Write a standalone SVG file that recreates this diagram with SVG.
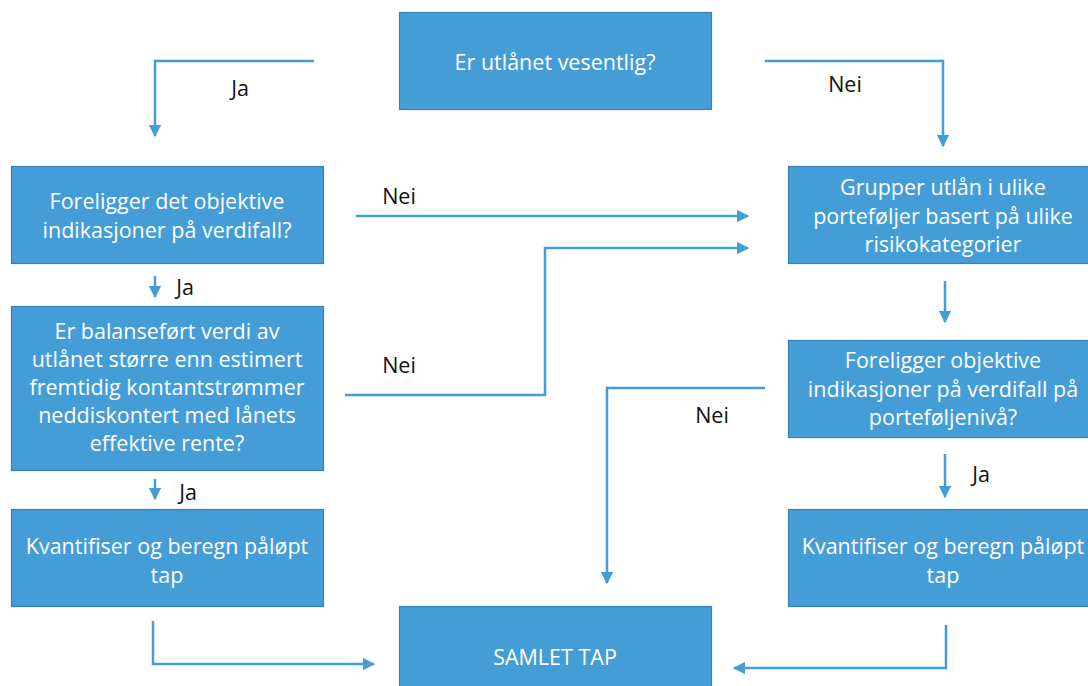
<svg xmlns="http://www.w3.org/2000/svg" width="1088" height="686" viewBox="0 0 1088 686">
<style>
.box{fill:#449dd7;stroke:#3a80b8;stroke-width:1.2}
.bt{font-family:"Open Sans","Liberation Sans",sans-serif;font-size:21.5px;fill:#ffffff;text-anchor:middle;dominant-baseline:central}
.lbl{font-family:"Open Sans","Liberation Sans",sans-serif;font-size:21.5px;fill:#111111;text-anchor:middle;dominant-baseline:central}
.c{fill:none;stroke:#449dd7;stroke-width:2.5}
</style>
<defs>
<marker id="ah" viewBox="0 0 10 10" refX="9" refY="5" markerWidth="5" markerHeight="5" orient="auto" markerUnits="strokeWidth">
<path d="M0,0 L10,5 L0,10 z" fill="#449dd7"/>
</marker>
</defs>
<rect width="1088" height="686" fill="#ffffff"/>
<g id="connectors">
<path class="c" d="M314,61 H155 V136" marker-end="url(#ah)"/>
<path class="c" d="M765,61 H943 V146" marker-end="url(#ah)"/>
<path class="c" d="M356,216 H748" marker-end="url(#ah)"/>
<path class="c" d="M345,395 H545 V248 H748" marker-end="url(#ah)"/>
<path class="c" d="M155,276 V297" marker-end="url(#ah)"/>
<path class="c" d="M155,479 V499" marker-end="url(#ah)"/>
<path class="c" d="M945,281 V322" marker-end="url(#ah)"/>
<path class="c" d="M945,454 V497" marker-end="url(#ah)"/>
<path class="c" d="M765,388 H607 V583" marker-end="url(#ah)"/>
<path class="c" d="M153,621 V664 H374" marker-end="url(#ah)"/>
<path class="c" d="M946,625 V668 H734" marker-end="url(#ah)"/>
<text class="lbl" x="240" y="87">Ja</text>
<text class="lbl" x="845" y="83">Nei</text>
<text class="lbl" x="399" y="195">Nei</text>
<text class="lbl" x="399" y="364">Nei</text>
<text class="lbl" x="185" y="286">Ja</text>
<text class="lbl" x="188" y="491">Ja</text>
<text class="lbl" x="981" y="473">Ja</text>
<text class="lbl" x="712" y="414">Nei</text>
</g>
<g id="n-top">
<rect class="box" x="399.5" y="12.5" width="312" height="97"/>
<text class="bt" x="555" y="61">Er utlånet vesentlig?</text>
</g>
<g id="n-l1">
<rect class="box" x="11.5" y="166.5" width="312" height="97"/>
<text class="bt" x="167" y="200">Foreligger det objektive</text>
<text class="bt" x="167" y="229">indikasjoner på verdifall?</text>
</g>
<g id="n-l2">
<rect class="box" x="11.5" y="306.5" width="312" height="164"/>
<text class="bt" x="167" y="330">Er balanseført verdi av</text>
<text class="bt" x="167" y="358">utlånet større enn estimert</text>
<text class="bt" x="167" y="386">fremtidig kontantstrømmer</text>
<text class="bt" x="167" y="414">neddiskontert med lånets</text>
<text class="bt" x="167" y="442">effektive rente?</text>
</g>
<g id="n-l3">
<rect class="box" x="11.5" y="509.5" width="312" height="97"/>
<text class="bt" x="167" y="545">Kvantifiser og beregn påløpt</text>
<text class="bt" x="167" y="574">tap</text>
</g>
<g id="n-r1">
<rect class="box" x="788.5" y="166.5" width="300" height="97"/>
<text class="bt" x="943" y="186">Grupper utlån i ulike</text>
<text class="bt" x="943" y="215">porteføljer basert på ulike</text>
<text class="bt" x="943" y="243">risikokategorier</text>
</g>
<g id="n-r2">
<rect class="box" x="788.5" y="340.5" width="300" height="97"/>
<text class="bt" x="943" y="359">Foreligger objektive</text>
<text class="bt" x="943" y="388">indikasjoner på verdifall på</text>
<text class="bt" x="943" y="416">porteføljenivå?</text>
</g>
<g id="n-r3">
<rect class="box" x="788.5" y="509.5" width="300" height="97"/>
<text class="bt" x="943" y="545">Kvantifiser og beregn påløpt</text>
<text class="bt" x="943" y="574">tap</text>
</g>
<g id="n-bottom">
<rect class="box" x="399.5" y="606.5" width="312" height="85"/>
<text class="bt" x="555" y="656">SAMLET TAP</text>
</g>
</svg>
